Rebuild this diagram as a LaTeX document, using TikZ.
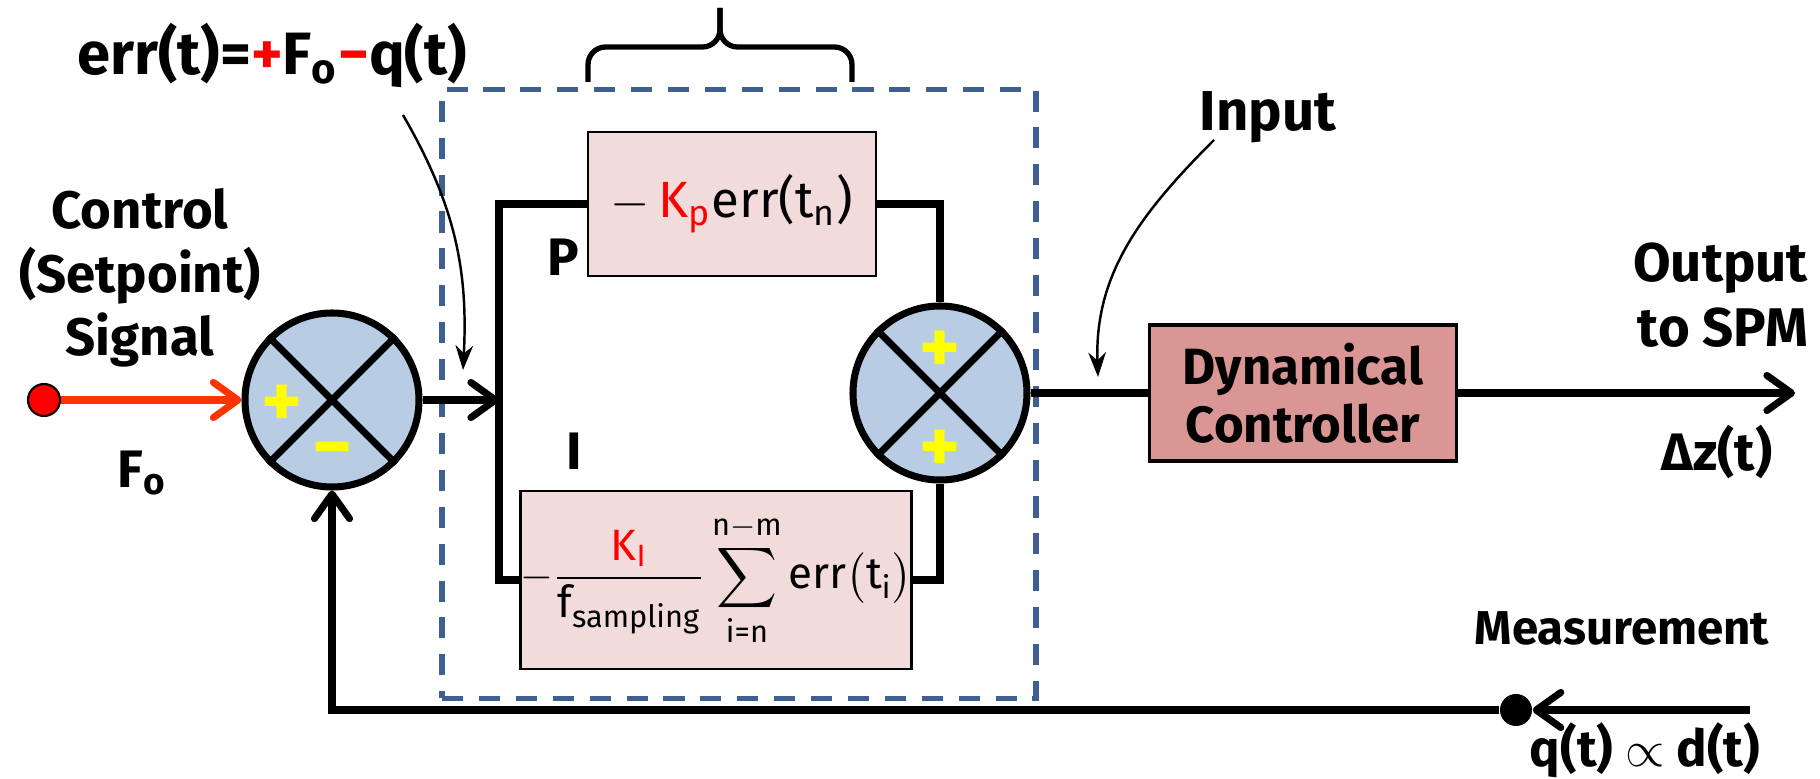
\documentclass[tikz,border=0pt]{standalone}
\usepackage{fontspec}
\setmainfont{Fira Sans}
\usepackage{amsmath}
\definecolor{sumblue}{RGB}{184,205,228}
\definecolor{gainpink}{RGB}{242,220,219}
\definecolor{ctrlrose}{RGB}{217,150,148}
\definecolor{frameblue}{RGB}{61,96,145}
\definecolor{signalred}{RGB}{255,51,0}
\definecolor{signyellow}{RGB}{255,255,0}
\usetikzlibrary{arrows.meta}

\begin{document}
\begin{tikzpicture}[
  wire/.style={line width=2pt},
  flow/.style={wire,-{Straight Barb[length=7pt,width=10pt,line cap=round,line join=round]}},
  sumnode/.style={circle,draw,line width=2pt,fill=sumblue,minimum size=1.74cm,inner sep=0pt},
  gainbox/.style={draw,line width=0.8pt,fill=gainpink,inner sep=0pt,font=\fontsize{14.5}{17}\selectfont},
  lbl/.style={font=\fontsize{15}{18}\selectfont\bfseries,align=center,inner sep=1pt},
  signmark/.style={text=signyellow,font=\fontsize{22}{22}\selectfont\bfseries,inner sep=0pt},
  notearrow/.style={line width=0.7pt,-{Stealth[length=7pt,width=5pt]}},
  dotnode/.style={circle,minimum size=0.32cm,inner sep=0pt},
]
  \useasboundingbox (0,0) rectangle (18.20,7.79);

  % PI frame and brace
  \node[draw=frameblue,line width=1.5pt,dash pattern=on 6pt off 4.5pt,
        minimum width=5.94cm,minimum height=6.09cm] (pid) at (7.39,3.85) {};
  \draw[line width=1.5pt,rounded corners=5pt] (5.88,6.97) |- (7.20,7.32) -- (7.20,7.71);
  \draw[line width=1.5pt,rounded corners=5pt] (8.52,6.97) |- (7.20,7.32) -- (7.20,7.71);

  % Summing junctions
  \node[sumnode] (sumL) at (3.32,3.79) {};
  \node[sumnode] (sumR) at (9.40,3.86) {};
  \draw[wire] (sumL.north west) -- (sumL.south east);
  \draw[wire] (sumL.north east) -- (sumL.south west);
  \draw[wire] (sumR.north west) -- (sumR.south east);
  \draw[wire] (sumR.north east) -- (sumR.south west);
  \node[signmark] (plusL) at (2.82,3.73) {+};
  \node[signmark] (minusL) at (3.33,3.22) {−};
  \node[signmark] (plusRa) at (9.40,4.27) {+};
  \node[signmark] (plusRb) at (9.40,3.28) {+};

  % P and I gains
  \node[gainbox,minimum width=2.88cm,minimum height=1.44cm] (Pbox) at (7.32,5.75)
    {$-$\,\textcolor{red}{K\textsubscript{p}}err(t\textsubscript{n})};
  \node[gainbox,minimum width=3.84cm,minimum height=1.78cm,font=\fontsize{12.5}{14}\selectfont] (Ibox) at (7.16,1.99)
    {$\displaystyle -\frac{\textcolor{red}{\text{K}_{\text{I}}}}{\text{f}_{\text{sampling}}}
      \sum_{\text{i=n}}^{\text{n}-\text{m}}\text{err}\bigl(\text{t}_{\text{i}}\bigr)$};

  % Controller
  \node[draw,line width=1pt,fill=ctrlrose,minimum width=3.07cm,minimum height=1.36cm,
        lbl,font=\fontsize{14.5}{16.5}\selectfont\bfseries] (ctrl) at (13.03,3.86) {Dynamical\\Controller};

  % Labels
  \node[lbl,font=\fontsize{17}{20}\selectfont\bfseries] (errlbl) at (2.72,7.24)
    {err(t)=\textcolor{red}{+}F\textsubscript{o}\textcolor{red}{−}q(t)};
  \node[lbl] (setlbl) at (1.40,5.01) {Control\\(Setpoint)\\Signal};
  \node[lbl] (folbl) at (1.42,3.06) {F\textsubscript{o}};
  \node[lbl] (plbl) at (5.63,5.22) {P};
  \node[lbl] (ilbl) at (5.74,3.28) {I};
  \node[lbl,font=\fontsize{16}{19}\selectfont\bfseries] (inlbl) at (12.68,6.62) {Input};
  \node[lbl,align=right,anchor=east,font=\fontsize{15.5}{18.5}\selectfont\bfseries] (outlbl) at (18.12,4.84) {Output\\to SPM};
  \node[lbl] (dzlbl) at (17.17,3.27) {Δz(t)};
  \node[lbl,font=\fontsize{13.5}{16}\selectfont\bfseries] (measlbl) at (16.22,1.51) {Measurement};
  \node[lbl,font=\fontsize{14.5}{17}\selectfont\bfseries] (qlbl) at (16.45,0.29) {q(t) $\propto$ d(t)};

  % Signal dots
  \node[dotnode,draw=black,line width=0.6pt,fill=red] (src) at (0.44,3.79) {};
  \node[dotnode,fill=black] (mdot) at (15.16,0.69) {};

  % Forward path
  \coordinate (split) at (4.99,3.79);
  \coordinate (outend) at (17.95,3.86);
  \draw[flow,signalred] (src) -- (sumL);
  \draw[flow] (sumL) -- (split);
  \draw[wire] (Pbox.west) -| (split) |- (Ibox.west);
  \draw[wire] (Pbox.east) -| (sumR.north);
  \draw[wire] (Ibox.east) -| (sumR.south);
  \draw[wire] (sumR) -- (ctrl);
  \draw[flow] (ctrl) -- (outend);

  % Feedback path
  \coordinate (qin) at (17.50,0.69);
  \draw[flow] (qin) -- (mdot);
  \draw[flow] (mdot) -| (sumL.south);

  % Annotation arrows
  \coordinate (errtail) at (4.03,6.64);
  \coordinate (errtip) at (4.63,4.09);
  \draw[notearrow] (errtail) to[out=-60,in=87] (errtip);
  \coordinate (intail) at (12.14,6.39);
  \coordinate (intip) at (10.98,4.02);
  \draw[notearrow] (intail) to[out=-135,in=92] (intip);
\end{tikzpicture}
\end{document}
